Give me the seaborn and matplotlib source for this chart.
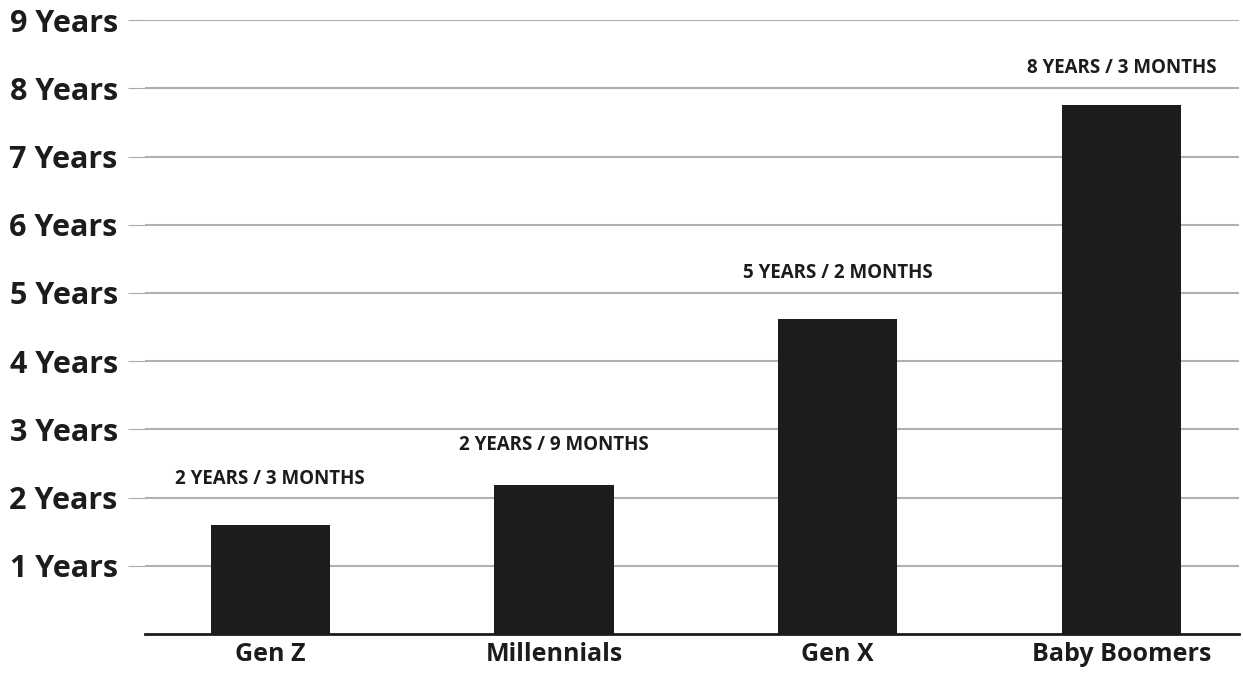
import matplotlib
matplotlib.use("Agg")
import matplotlib.pyplot as plt
import seaborn as sns
import pandas as pd

# values
generations = ["Gen Z", "Millennials", "Gen X", "Baby Boomers"]
bar_heights = [1.6, 2.18, 4.62, 7.76]
bar_labels = ["2 YEARS / 3 MONTHS", "2 YEARS / 9 MONTHS", "5 YEARS / 2 MONTHS", "8 YEARS / 3 MONTHS"]
label_y = [2.12, 2.62, 5.15, 8.15]
y_ticks = [1, 2, 3, 4, 5, 6, 7, 8, 9]

plt.rcParams["font.family"] = "Open Sans"

df = pd.DataFrame({"generation": generations, "years": bar_heights})

fig = plt.figure(figsize=(12.43, 6.73), dpi=100)
ax = fig.add_axes([0.117, 0.058, 0.88, 0.912])

sns.barplot(data=df, x="generation", y="years", color="#1c1c1c", width=0.42, ax=ax, zorder=3)

for i, (txt, yy) in enumerate(zip(bar_labels, label_y)):
    ax.text(i, yy, txt, ha="center", va="bottom", fontsize=13.5, fontweight="bold", color="#1c1c1c")

ax.set_ylim(0, 9)
ax.set_xlim(-0.44, 3.415)
ax.set_yticks(y_ticks)
ax.set_yticklabels([f"{t} Years" for t in y_ticks], fontsize=22, fontweight="bold", color="#1c1c1c")
ax.tick_params(axis="y", length=12, color="#aaaaaa", pad=8)
ax.tick_params(axis="x", length=0, labelsize=18, pad=6)
for lbl in ax.get_xticklabels():
    lbl.set_fontweight("bold")
    lbl.set_color("#1c1c1c")
ax.grid(axis="y", color="#b0b0b0", linewidth=1.5, zorder=0)
ax.set_xlabel("")
ax.set_ylabel("")
for s in ["top", "right", "left"]:
    ax.spines[s].set_visible(False)
ax.spines["bottom"].set_color("#1c1c1c")
ax.spines["bottom"].set_linewidth(2)

fig.savefig("out.png", dpi=100)
